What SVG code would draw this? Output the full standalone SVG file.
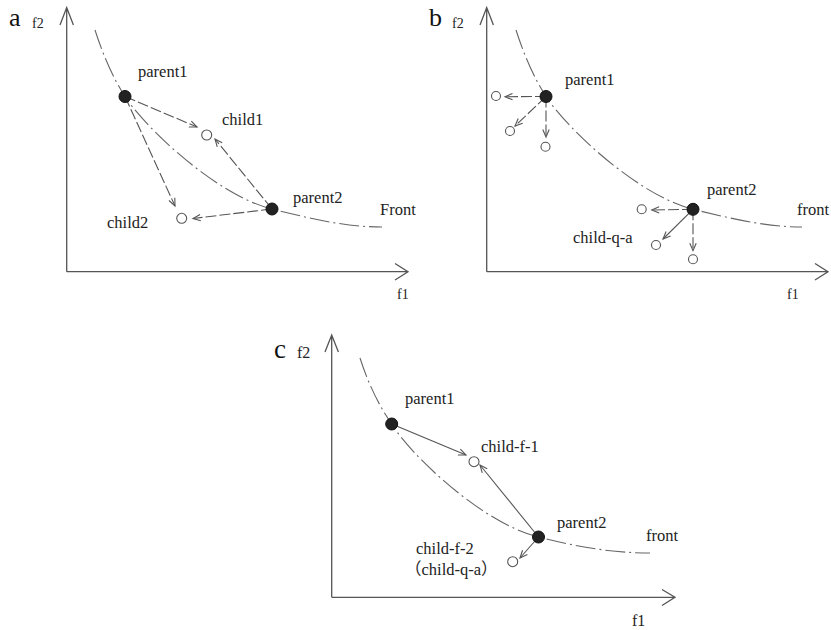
<svg xmlns="http://www.w3.org/2000/svg" width="831" height="630" viewBox="0 0 831 630">
<defs>
<style>
.lbl{font-family:"Liberation Serif","Times New Roman",serif;font-size:16.5px;fill:#222}
.big{font-family:"Liberation Serif","Times New Roman",serif;font-size:26px;fill:#111}
.ax{font-family:"Liberation Serif","Times New Roman",serif;font-size:14px;fill:#222}
.cjk{font-family:"Noto Sans CJK SC",sans-serif}
.axis{stroke:#555;stroke-width:1.3;fill:none}
.front{stroke:#666;stroke-width:1.1;fill:none;stroke-dasharray:20,4,2,4}
.dash{stroke:#555;stroke-width:1.1;fill:none;stroke-dasharray:11,3}
.solid{stroke:#555;stroke-width:1.1;fill:none}
.parent{fill:#222;stroke:#111;stroke-width:1}
.child{fill:#fff;stroke:#555;stroke-width:1.1}
</style>
<marker id="arr" markerWidth="10" markerHeight="8" refX="8" refY="4" orient="auto" markerUnits="userSpaceOnUse">
<path d="M0.5,0.8 L8,4 L0.5,7.2" fill="none" stroke="#555" stroke-width="1.1"/>
</marker>
</defs>

<!-- Panel a -->
<g id="panel-a">
<text class="big" x="9" y="26">a</text>
<text class="ax" x="32" y="28">f2</text>
<text class="ax" x="397" y="299">f1</text>
<g id="a-axes">
<path class="axis" d="M66.7,271.7 V7.5 M60,25 L66.7,7.5 L73.4,25"/>
<path class="axis" d="M66.7,271.7 H408 M395,263.5 L408,271.7 L395,280"/>
</g>
<g id="a-front"><path class="front" d="M95,30 C103,55 113,78 125,96.5 C143,125 215,195 272,209 C310,218.5 345,227 382,227"/></g>
<text class="lbl" x="380" y="215">Front</text>
<g id="a-connectors">
<path class="dash" marker-end="url(#arr)" d="M125,96.5 L197,127"/>
<path class="dash" marker-end="url(#arr)" d="M272,209 L215,139"/>
<path class="dash" marker-end="url(#arr)" d="M125,96.5 L175,206"/>
<path class="dash" marker-end="url(#arr)" d="M272,209 L193,218.5"/>
</g>
<g id="a-parent1"><circle class="parent" cx="125" cy="96.5" r="6"/><text class="lbl" x="138" y="77">parent1</text></g>
<g id="a-parent2"><circle class="parent" cx="272" cy="209" r="6"/><text class="lbl" x="293" y="203">parent2</text></g>
<g id="a-child1"><circle class="child" cx="206.7" cy="135" r="5"/><text class="lbl" x="222" y="125">child1</text></g>
<g id="a-child2"><circle class="child" cx="181.7" cy="218.3" r="5"/><text class="lbl" x="107" y="228">child2</text></g>
</g>

<!-- Panel b -->
<g id="panel-b" transform="translate(420,0)">
<text class="big" x="9" y="26">b</text>
<text class="ax" x="32" y="28">f2</text>
<text class="ax" x="367" y="299">f1</text>
<g id="b-axes">
<path class="axis" d="M66.7,271.7 V7.5 M60,25 L66.7,7.5 L73.4,25"/>
<path class="axis" d="M66.7,271.7 H408 M395,263.5 L408,271.7 L395,280"/>
</g>
<g id="b-front"><path class="front" d="M96,30 C104,55 114,78 126,96.5 C144,125 216,195 273,209.3 C311,218.5 346,227 382,227"/></g>
<text class="lbl" x="377" y="215">front</text>
<g id="b-connectors">
<path class="dash" marker-end="url(#arr)" d="M126,96.5 L85,96.7"/>
<path class="dash" marker-end="url(#arr)" d="M126,96.5 L95,126"/>
<path class="dash" marker-end="url(#arr)" d="M126,96.5 L126,137"/>
<path class="dash" marker-end="url(#arr)" d="M273,209.3 L231.7,210"/>
<path class="solid" marker-end="url(#arr)" d="M273,209.3 L243,239"/>
<path class="dash" marker-end="url(#arr)" d="M273,209.3 L273,250.7"/>
</g>
<g id="b-parent1"><circle class="parent" cx="126" cy="96.5" r="6"/><text class="lbl" x="145" y="85">parent1</text></g>
<g id="b-parent2"><circle class="parent" cx="273" cy="209.3" r="6"/><text class="lbl" x="287" y="195">parent2</text></g>
<g id="b-child-1"><circle class="child" cx="76" cy="96" r="4.5"/></g>
<g id="b-child-2"><circle class="child" cx="90" cy="131" r="4.5"/></g>
<g id="b-child-3"><circle class="child" cx="125.5" cy="146.7" r="4.5"/></g>
<g id="b-child-4"><circle class="child" cx="221.7" cy="209.3" r="4.5"/></g>
<g id="b-child-q-a"><circle class="child" cx="236" cy="245" r="4.5"/><text class="lbl" x="153" y="243">child-q-a</text></g>
<g id="b-child-6"><circle class="child" cx="273" cy="259.3" r="4.5"/></g>
</g>

<!-- Panel c -->
<g id="panel-c" transform="translate(266,327)">
<text class="big" x="8" y="31" style="font-size:27px">c</text>
<text class="ax" x="31" y="31" style="font-size:16px">f2</text>
<text class="ax" x="366" y="299" style="font-size:16px">f1</text>
<g id="c-axes">
<path class="axis" d="M65.7,270.3 V8 M59,25 L65.7,8 L72.4,25"/>
<path class="axis" d="M65.7,270.3 H409 M396,262.5 L409,270.3 L396,278.5"/>
</g>
<g id="c-front"><path class="front" d="M94,31 C102,56 113,79 125.7,97 C143,126 215,196 272.5,210 C310,219.5 345,226 384,226"/></g>
<text class="lbl" x="380" y="214">front</text>
<g id="c-connectors">
<path class="solid" marker-end="url(#arr)" d="M125.7,97 L200,128"/>
<path class="solid" marker-end="url(#arr)" d="M272.5,210 L214,138"/>
<path class="solid" marker-end="url(#arr)" d="M272.5,210 L254,231"/>
</g>
<g id="c-parent1"><circle class="parent" cx="125.7" cy="97" r="6"/><text class="lbl" x="139" y="77">parent1</text></g>
<g id="c-parent2"><circle class="parent" cx="272.5" cy="210" r="6"/><text class="lbl" x="291" y="201">parent2</text></g>
<g id="c-child-f-1"><circle class="child" cx="208" cy="134.7" r="5"/><text class="lbl" x="215" y="125">child-f-1</text></g>
<g id="c-child-f-2"><circle class="child" cx="246.7" cy="234.7" r="5"/><text class="lbl" x="150" y="227">child-f-2</text><text class="lbl" x="139" y="248"><tspan class="cjk">（</tspan>child-q-a<tspan class="cjk">）</tspan></text></g>
</g>
</svg>
